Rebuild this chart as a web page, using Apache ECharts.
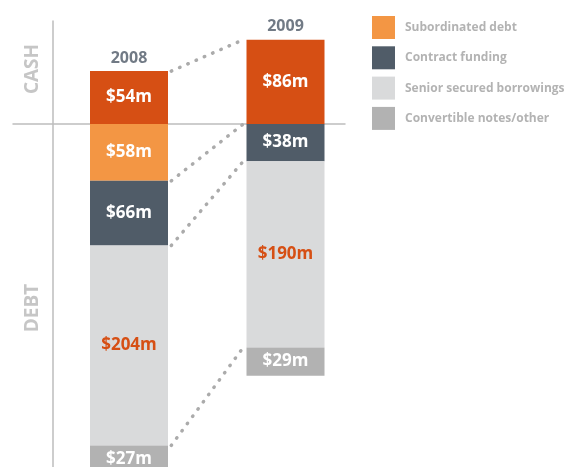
<!DOCTYPE html>
<html>
<head>
<meta charset="utf-8">
<script src="https://cdn.jsdelivr.net/npm/echarts@6/dist/echarts.min.js"></script>
<style>
  html, body { margin: 0; padding: 0; background: #fff; }
  #main { width: 572px; height: 467px; }
</style>
</head>
<body>
<div id="main"></div>
<script>
// values in $m, debt is drawn below the zero line
const years = ['2008', '2009'];
const cash = [54, 86];
const subordinatedDebt = [58, null];
const contractFunding = [66, 38];
const seniorSecured = [204, 190];
const convertibleNotes = [27, 29];

const debtNames = ['Subordinated debt', 'Contract funding', 'Senior secured borrowings', 'Convertible notes/other'];
const debtValues = [subordinatedDebt, contractFunding, seniorSecured, convertibleNotes];
const debtColors = ['#F39644', '#505C68', '#D9DADB', '#B2B2B2'];
const debtLabelColors = ['#fff', '#fff', '#D64F14', '#fff'];

let chart = echarts.init(document.getElementById('main'));

const font = "'Open Sans', sans-serif";
const barHalf = 0.27;
const yMin = -360, yMax = 105;

function money(v) {
    return '$' + Math.abs(v) + 'm';
}

let series = [];

// grid 1 holds the bars on a category axis
series.push({
    name: 'Cash',
    type: 'bar',
    stack: 'total',
    xAxisIndex: 1, yAxisIndex: 1,
    barWidth: 78,
    itemStyle: { color: '#D64F14' },
    label: {
        show: true, position: 'inside', color: '#fff',
        fontFamily: font, fontWeight: 'bold', fontSize: 17,
        formatter: p => money(p.value)
    },
    data: cash
});

debtValues.forEach((arr, k) => {
    series.push({
        name: debtNames[k],
        type: 'bar',
        stack: 'total',
        xAxisIndex: 1, yAxisIndex: 1,
        barWidth: 78,
        itemStyle: { color: debtColors[k] },
        label: {
            show: true, position: 'inside', color: debtLabelColors[k],
            fontFamily: font, fontWeight: 'bold', fontSize: 17,
            formatter: p => (p.value == null || p.value === '-') ? '' : money(p.value)
        },
        data: arr.map(v => v == null ? '-' : -v)
    });
});

// year labels sitting on top of the cash bars
series.push({
    type: 'scatter',
    xAxisIndex: 1, yAxisIndex: 1,
    symbolSize: 0,
    silent: true,
    label: {
        show: true, position: 'top', distance: 5,
        color: '#4D5966', fontFamily: font, fontWeight: 'bold', fontSize: 16,
        formatter: p => years[p.dataIndex]
    },
    data: cash
});

// dotted connectors between matching boundaries of the two bars (grid 0)
let levels = [cash.slice()];
let running = [0, 0];
for (let k = 0; k < debtValues.length - 1; k++) {
    running = running.map((r, i) => r - (debtValues[k][i] || 0));
    levels.push(running.slice());
}
levels.forEach(lv => {
    series.push({
        type: 'line',
        silent: true,
        symbol: 'none',
        xAxisIndex: 0, yAxisIndex: 0,
        lineStyle: { color: '#ABABAB', width: 3.5, type: [0.5, 8.5], cap: 'round' },
        data: [[1 + barHalf, lv[0]], [2 - barHalf, lv[1]]]
    });
});

const hiddenAxis = {
    axisLine: { show: false }, axisTick: { show: false },
    axisLabel: { show: false }, splitLine: { show: false }
};

let option = {
    animation: false,
    legend: {
        data: debtNames,
        orient: 'vertical',
        left: 372,
        top: 16,
        padding: 0,
        itemWidth: 23,
        itemHeight: 23,
        itemGap: 7.3,
        icon: 'rect',
        selectedMode: false,
        textStyle: {
            color: '#B3B3B3', fontFamily: font, fontWeight: 'bold', fontSize: 12,
            padding: [0, 0, 0, 5]
        }
    },
    grid: [
        { left: 13, width: 332, top: 21.1, height: 455.7, outerBoundsMode: 'none' },
        { left: 50.75, width: 313, top: 21.1, height: 455.7, outerBoundsMode: 'none' }
    ],
    xAxis: [
        Object.assign({
            type: 'value', gridIndex: 0, min: 0.2588, max: 2.38
        }, hiddenAxis, {
            axisLine: { show: true, onZero: true, lineStyle: { color: '#BDBDBD', width: 1.5 } }
        }),
        Object.assign({
            type: 'category', gridIndex: 1, data: years
        }, hiddenAxis)
    ],
    yAxis: [
        Object.assign({
            type: 'value', gridIndex: 0, min: yMin, max: yMax, offset: -40
        }, hiddenAxis, {
            axisLine: { show: true, onZero: false, lineStyle: { color: '#BDBDBD', width: 1.5 } }
        }),
        Object.assign({
            type: 'value', gridIndex: 1, min: yMin, max: yMax
        }, hiddenAxis)
    ],
    graphic: [
        {
            type: 'text', x: 33, y: 69, rotation: Math.PI / 2,
            style: {
                text: 'CASH', fill: '#C6C6C6', font: "bold 19px 'Open Sans', sans-serif",
                align: 'center', verticalAlign: 'middle'
            }
        },
        {
            type: 'text', x: 33, y: 308, rotation: Math.PI / 2,
            style: {
                text: 'DEBT', fill: '#C6C6C6', font: "bold 19px 'Open Sans', sans-serif",
                align: 'center', verticalAlign: 'middle'
            }
        }
    ],
    series: series
};

chart.setOption(option);
</script>
</body>
</html>
